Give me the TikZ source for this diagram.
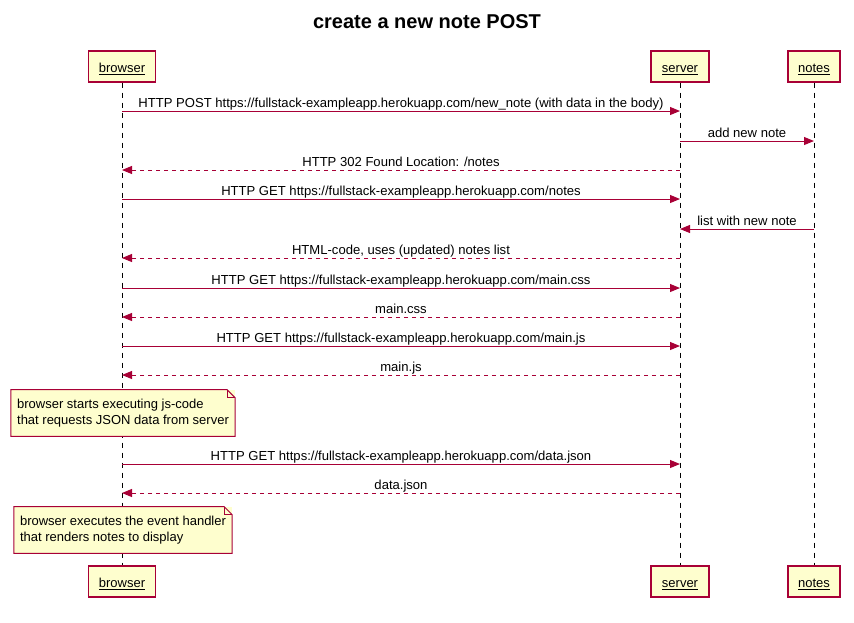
\documentclass[tikz,border=0pt]{standalone}
\usepackage{fontspec}
\setmainfont{Liberation Sans}
\usetikzlibrary{arrows.meta,calc}
\definecolor{umlred}{HTML}{A80036}
\definecolor{umlfill}{HTML}{FEFECE}
\tikzstyle{actor} = [rectangle, draw=umlred, fill=umlfill, line width=1.1pt,
    minimum height=23.25pt, inner xsep=0pt, text height=10pt, text depth=1pt,
    font=\fontsize{9.75}{12}\selectfont]
\tikzstyle{life} = [draw, line width=0.75pt, dash pattern=on 3.75pt off 3.75pt]
\tikzstyle{msg} = [draw=umlred, line width=0.75pt, -{Triangle[length=7.5pt,width=6pt]}]
\tikzstyle{reply} = [msg, dash pattern=on 3pt off 3pt]
\tikzstyle{lbl} = [above, inner sep=0pt, text depth=0pt, yshift=2.5pt, text=black,
    font=\fontsize{9.8}{12}\selectfont]
\tikzstyle{note} = [rectangle, fill=umlfill, align=left, inner xsep=4.5pt, inner ysep=0pt,
    minimum height=34.5pt, font=\fontsize{9.75}{11.6}\selectfont]

\begin{document}
\begin{tikzpicture}[x=0.75pt, y=-0.75pt]
\useasboundingbox (0,0) rectangle (854,622);
%% Title
\node [anchor=base, font=\fontsize{15}{17}\selectfont\bfseries] (title) at (427,28) {create a new note POST};

%% Participants, top and bottom
\node [actor, minimum width=50.25pt] (browser) at (122,66.5) {\underline{browser}};
\node [actor, minimum width=43.5pt] (server) at (680,66.5) {\underline{server}};
\node [actor, minimum width=39pt] (notes) at (814,66.5) {\underline{notes}};
\node [actor, minimum width=50.25pt] (browserB) at (122,581.5) {\underline{browser}};
\node [actor, minimum width=43.5pt] (serverB) at (680,581.5) {\underline{server}};
\node [actor, minimum width=39pt] (notesB) at (814,581.5) {\underline{notes}};

%% Lifelines
\foreach \p in {browser,server,notes}{
    \path [life] (\p.south) -- (\p B.north);
}

%% Message rows
\foreach \r/\y in {1/111,2/141,3/170,4/199,5/229,6/258,7/288,8/317,9/346,10/375,11/464,12/493}{
    \coordinate (r\r) at (0,\y);
}

%% Messages
\path [msg] (browser |- r1) -- node[lbl] {HTTP POST https://fullstack-exampleapp.herokuapp.com/new\_note (with data in the body)} (server |- r1);
\path [msg] (server |- r2) -- node[lbl] {add new note} (notes |- r2);
\path [reply] (server |- r3) -- node[lbl] {HTTP 302 Found Location: /notes} (browser |- r3);
\path [msg] (browser |- r4) -- node[lbl] {HTTP GET https://fullstack-exampleapp.herokuapp.com/notes} (server |- r4);
\path [msg] (notes |- r5) -- node[lbl] {list with new note} (server |- r5);
\path [reply] (server |- r6) -- node[lbl] {HTML-code, uses (updated) notes list} (browser |- r6);
\path [msg] (browser |- r7) -- node[lbl] {HTTP GET https://fullstack-exampleapp.herokuapp.com/main.css} (server |- r7);
\path [reply] (server |- r8) -- node[lbl] {main.css} (browser |- r8);
\path [msg] (browser |- r9) -- node[lbl] {HTTP GET https://fullstack-exampleapp.herokuapp.com/main.js} (server |- r9);
\path [reply] (server |- r10) -- node[lbl] {main.js} (browser |- r10);
\path [msg] (browser |- r11) -- node[lbl] {HTTP GET https://fullstack-exampleapp.herokuapp.com/data.json} (server |- r11);
\path [reply] (server |- r12) -- node[lbl] {data.json} (browser |- r12);

%% Notes with folded corner
\node [note] (note1) at (123,413) {browser starts executing js-code\\that requests JSON data from server};
\node [note] (note2) at (123,530) {browser executes the event handler\\that renders notes to display};
\foreach \n in {note1,note2}{
    \draw [umlred, line width=0.75pt] (\n.north west) -- ($(\n.north east)+(-8,0)$) -- ($(\n.north east)+(0,8)$)
        -- (\n.south east) -- (\n.south west) -- cycle;
    \draw [umlred, line width=0.75pt] ($(\n.north east)+(-8,0)$) -- ($(\n.north east)+(-8,8)$) -- ($(\n.north east)+(0,8)$);
}
\end{tikzpicture}
\end{document}
